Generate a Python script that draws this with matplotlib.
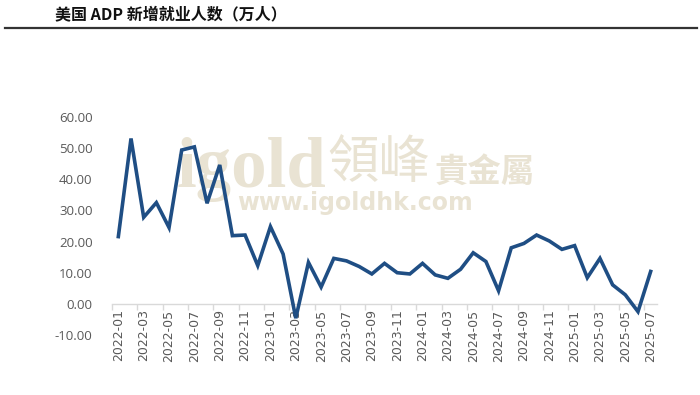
import matplotlib
matplotlib.use("Agg")
import matplotlib.pyplot as plt
from matplotlib.lines import Line2D
from matplotlib.ticker import FixedLocator, FuncFormatter

plt.rcParams['font.family'] = ['Noto Sans CJK SC', 'DejaVu Sans']

months = [f"{y}-{m:02d}" for y in (2022, 2023, 2024, 2025) for m in range(1, 13)][:43]
values = [21.6, 53.1, 27.8, 32.5, 24.5, 49.4, 50.4, 32.3, 44.6, 21.9, 22.1, 12.3,
          24.8, 16.0, -4.6, 13.3, 5.4, 14.6, 13.8, 12.0, 9.6, 13.0, 10.0, 9.6,
          13.0, 9.3, 8.2, 11.1, 16.4, 13.6, 4.2, 18.0, 19.4, 22.1, 20.2, 17.5,
          18.7, 8.4, 14.6, 6.1, 2.9, -2.5, 10.4]
yticks = [-10, 0, 10, 20, 30, 40, 50, 60]
title = "美国 ADP 新增就业人数（万人）"

W, H = 700, 395
fig = plt.figure(figsize=(7, 3.95), dpi=100)

# title and rule
fig.text(55 / W, 1 - 14 / H, title, fontsize=11.5, fontweight='bold', color='#111111',
         va='center', ha='left')
fig.add_artist(Line2D([5 / W, 697 / W], [1 - 28 / H, 1 - 28 / H], color='#333333', lw=1.6))

# watermark
wm = '#e9e3d3'
fig.text(177 / W, 1 - 187 / H, "igold", fontsize=51, fontweight='bold', color=wm,
         family='Liberation Serif', va='baseline', ha='left', zorder=0)
fig.text(327 / W, 1 - 163 / H, "領峰", fontsize=37, color=wm,
         family=['Noto Sans CJK TC'], va='center', ha='left', zorder=0)
fig.text(435 / W, 1 - 172 / H, "貴金屬", fontsize=24, color=wm, fontweight='bold',
         family=['Noto Sans CJK TC'], va='center', ha='left', zorder=0)
fig.text(237 / W, 1 - 203 / H, "www.igoldhk.com", fontsize=17, color=wm, fontweight='bold',
         family='DejaVu Sans', va='center', ha='left', zorder=0)

ax = fig.add_axes([112 / W, 1 - 335 / H, (657 - 112) / W, (335 - 117) / H])
ax.set_zorder(2)
ax.patch.set_alpha(0)
x = list(range(len(values)))
ax.plot(x, values, color='#1f4e84', lw=2.6, solid_joinstyle='miter', zorder=3)

ax.set_xlim(-0.5, len(values) - 0.5)
ax.set_ylim(-10, 60)
for s in ['top', 'right', 'left']:
    ax.spines[s].set_visible(False)
ax.spines['bottom'].set_position(('data', 0))
ax.spines['bottom'].set_color('#d9d9d9')
ax.spines['bottom'].set_linewidth(1.0)

ax.yaxis.set_major_locator(FixedLocator(yticks))
ax.yaxis.set_major_formatter(FuncFormatter(lambda v, p: f"{v:.2f}"))
ax.tick_params(axis='y', length=0, pad=14, labelsize=9.5, labelcolor='#595959')
for lab in ax.get_yticklabels():
    lab.set_family('Open Sans')

ax.set_xticks(x[::2])
ax.set_xticklabels(months[::2], rotation=90, fontsize=9, color='#595959', family='DejaVu Sans')
ax.tick_params(axis='x', which='major', length=0, pad=4)
ax.set_xticks([i - 0.5 for i in range(0, len(values) + 1, 2)], minor=True)
ax.tick_params(axis='x', which='minor', length=4, color='#d9d9d9', width=1)

fig.savefig("out.png", dpi=100)
